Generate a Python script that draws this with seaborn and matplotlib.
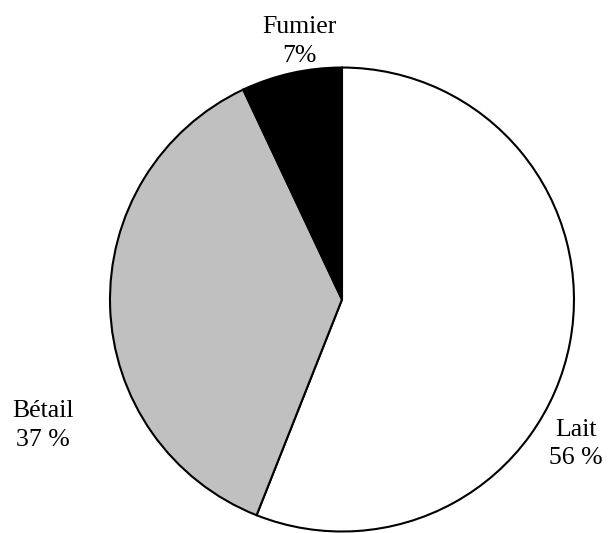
import matplotlib
matplotlib.use("Agg")
import matplotlib.pyplot as plt
import seaborn as sns

sns.set_theme(style="white")
plt.rcParams["font.family"] = ["Liberation Serif", "DejaVu Serif"]

categories = ["Lait", "Bétail", "Fumier"]
shares = [56, 37, 7]
pct_labels = ["56 %", "37 %", "7%"]
colors = ["#FFFFFF", "#C0C0C0", "#000000"]

# label anchor positions (data units, pie radius = 1), baseline of last line
label_pos = [(1.009, -0.709), (-1.29, -0.631), (-0.185, 1.025)]

fig = plt.figure(figsize=(6.09, 5.33), dpi=100, facecolor="white")
ax = fig.add_axes([0.1806, 0.0028, 0.7619, 0.8705])

ax.pie(
    shares,
    colors=colors,
    startangle=90,
    counterclock=False,
    radius=1,
    wedgeprops=dict(edgecolor="black", linewidth=1.5),
)

for cat, pct, (x, y) in zip(categories, pct_labels, label_pos):
    ax.text(x, y, f"{cat}\n{pct}", ha="center", va="baseline",
            fontsize=18.5, color="black", linespacing=1.38, clip_on=False)

ax.set_xlim(-1, 1)
ax.set_ylim(-1, 1)
ax.set_aspect("equal")
ax.axis("off")

plt.savefig("out.png", dpi=100, facecolor="white")
